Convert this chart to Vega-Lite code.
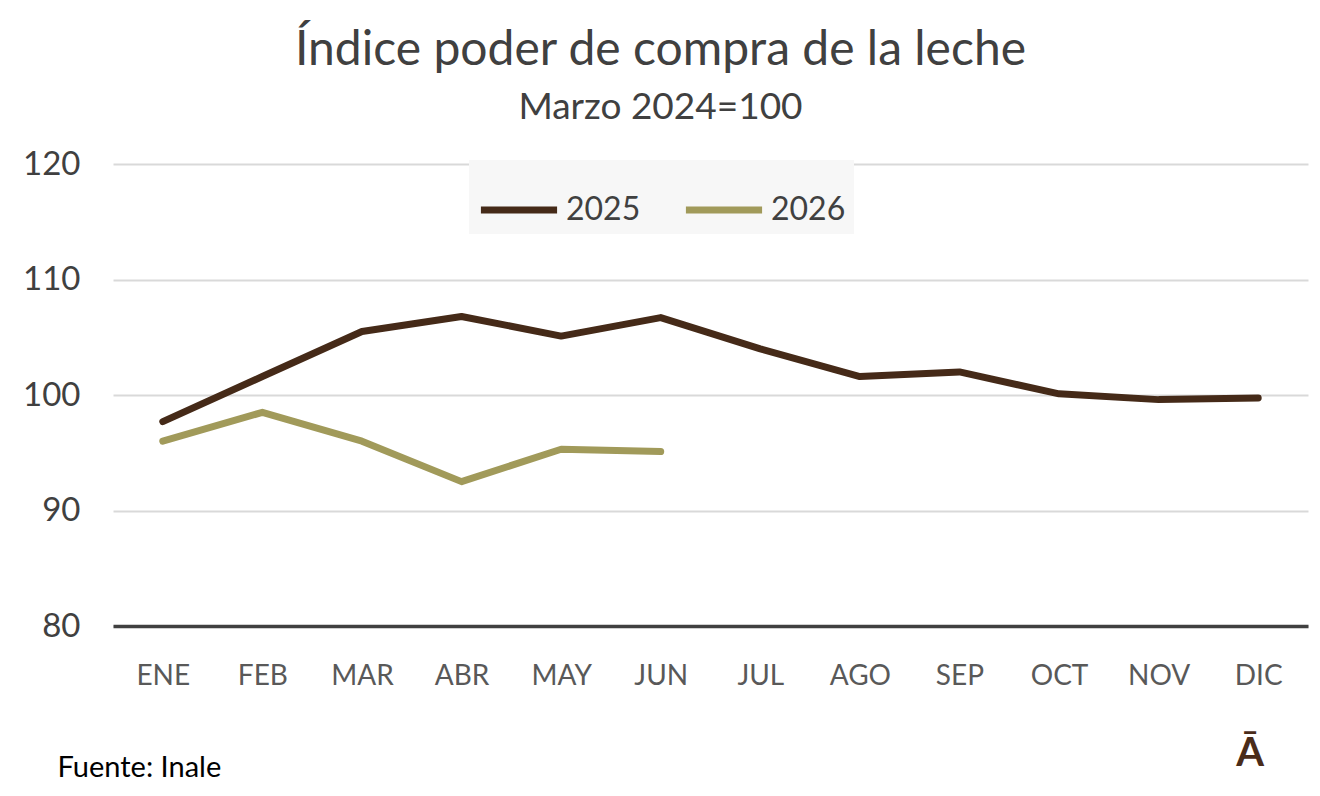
{
  "$schema": "https://vega.github.io/schema/vega-lite/v6.json",
  "width": 1195,
  "height": 462,
  "autosize": {"type": "none"},
  "padding": {"left": 113, "top": 164, "right": 12, "bottom": 170},
  "background": "white",
  "view": {"stroke": null},
  "title": {
    "text": "Índice poder de compra de la leche",
    "subtitle": "Marzo 2024=100",
    "anchor": "middle",
    "dx": -50,
    "offset": 22,
    "font": "Lato",
    "fontSize": 48,
    "fontWeight": "normal",
    "color": "#404040",
    "subtitleFont": "Lato",
    "subtitleFontSize": 37,
    "subtitleColor": "#404040",
    "subtitlePadding": 15
  },
  "data": {
    "values": [
      {"mes": "ENE", "anio": "2025", "indice": 97.7},
      {"mes": "FEB", "anio": "2025", "indice": 101.6},
      {"mes": "MAR", "anio": "2025", "indice": 105.5},
      {"mes": "ABR", "anio": "2025", "indice": 106.8},
      {"mes": "MAY", "anio": "2025", "indice": 105.1},
      {"mes": "JUN", "anio": "2025", "indice": 106.7},
      {"mes": "JUL", "anio": "2025", "indice": 104.0},
      {"mes": "AGO", "anio": "2025", "indice": 101.6},
      {"mes": "SEP", "anio": "2025", "indice": 102.0},
      {"mes": "OCT", "anio": "2025", "indice": 100.1},
      {"mes": "NOV", "anio": "2025", "indice": 99.6},
      {"mes": "DIC", "anio": "2025", "indice": 99.75},
      {"mes": "ENE", "anio": "2026", "indice": 96.0},
      {"mes": "FEB", "anio": "2026", "indice": 98.5},
      {"mes": "MAR", "anio": "2026", "indice": 96.0},
      {"mes": "ABR", "anio": "2026", "indice": 92.5},
      {"mes": "MAY", "anio": "2026", "indice": 95.3},
      {"mes": "JUN", "anio": "2026", "indice": 95.1}
    ]
  },
  "layer": [
    {
      "mark": {"type": "line", "strokeWidth": 7, "strokeCap": "round", "strokeJoin": "round"},
      "encoding": {
        "x": {
          "field": "mes",
          "type": "ordinal",
          "sort": ["ENE", "FEB", "MAR", "ABR", "MAY", "JUN", "JUL", "AGO", "SEP", "OCT", "NOV", "DIC"],
          "scale": {"domain": ["ENE", "FEB", "MAR", "ABR", "MAY", "JUN", "JUL", "AGO", "SEP", "OCT", "NOV", "DIC"], "padding": 0.5},
          "axis": {
            "title": "Fuente: Inale",
            "titleFont": "Lato",
            "titleFontSize": 29,
            "titleFontWeight": "normal",
            "titleColor": "#000000",
            "titleAnchor": "start",
            "titleAlign": "left",
            "titleX": -56,
            "titleY": 127,
            "labelAngle": 0,
            "labelFont": "Lato",
            "labelFontSize": 28,
            "labelColor": "#595959",
            "labelPadding": 36,
            "ticks": false,
            "grid": false,
            "domain": true,
            "domainColor": "#404040",
            "domainWidth": 3.5
          }
        },
        "y": {
          "field": "indice",
          "type": "quantitative",
          "scale": {"domain": [80, 120], "nice": false, "zero": false},
          "axis": {
            "title": null,
            "values": [80, 90, 100, 110, 120],
            "labelFont": "Lato",
            "labelFontSize": 33,
            "labelColor": "#404040",
            "labelPadding": 33,
            "ticks": false,
            "domain": false,
            "grid": true,
            "gridColor": "#d9d9d9",
            "gridWidth": 2
          }
        },
        "color": {
          "field": "anio",
          "type": "nominal",
          "scale": {"domain": ["2025", "2026"], "range": ["#452a18", "#a19a5a"]},
          "legend": {
            "title": null,
            "orient": "none",
            "direction": "horizontal",
            "legendX": 356,
            "legendY": -4,
            "fillColor": "#f7f7f7",
            "padding": 8,
            "symbolType": "stroke",
            "symbolStrokeWidth": 7,
            "symbolSize": 5800,
            "labelFont": "Lato",
            "labelFontSize": 32,
            "labelColor": "#404040",
            "labelOffset": 5,
            "columnPadding": 30
          }
        }
      }
    },
    {
      "data": {"values": [{"logo": "Ā"}]},
      "mark": {"type": "text", "font": "Lato", "fontSize": 40, "fontWeight": "bold", "color": "#4a2c1a", "dy": 128, "dx": -8},
      "encoding": {
        "x": {"datum": "DIC", "type": "ordinal"},
        "y": {"datum": 80, "type": "quantitative"},
        "text": {"field": "logo"}
      }
    }
  ]
}
